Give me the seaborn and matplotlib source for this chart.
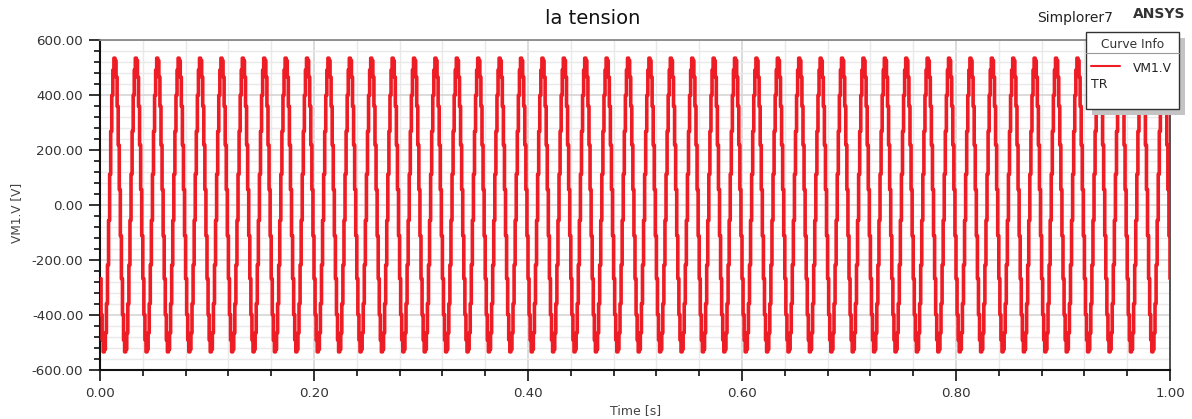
import numpy as np
import pandas as pd
import matplotlib
matplotlib.use("Agg")
import matplotlib.pyplot as plt
from matplotlib.patches import Rectangle
from matplotlib.lines import Line2D
from matplotlib.ticker import MultipleLocator, FormatStrFormatter
import seaborn as sns

# ---- data ----
# one 20 ms period of VM1.V sampled every 1 ms (values in V)
cycle_voltage = [-268, -399, -491, -534, -525, -465, -359, -218, -56, 112,
                 268, 399, 491, 534, 525, 465, 359, 218, 56, -112]
n_cycles = 50
sample_step = 0.001  # s
x_ticks = [0.0, 0.2, 0.4, 0.6, 0.8, 1.0]
y_ticks = [-600, -400, -200, 0, 200, 400, 600]
series_name = "VM1.V"

volts = np.tile(np.array(cycle_voltage, dtype=float), n_cycles)
volts = np.append(volts, cycle_voltage[0])
times = np.arange(len(volts)) * sample_step
df = pd.DataFrame({"Time [s]": times, "VM1.V [V]": volts})

sns.set_theme(style="white")
plt.rcParams["font.family"] = ["DejaVu Sans"]

W, H = 1192, 419
fig = plt.figure(figsize=(W / 100, H / 100), dpi=100)
ax = fig.add_axes([100 / W, 1 - 370 / H, 1070 / W, 330 / H])

red = "#ee1c24"
sns.lineplot(data=df, x="Time [s]", y="VM1.V [V]", ax=ax, color=red,
             linewidth=2.6, estimator=None, sort=False, legend=False,
             drawstyle="steps-post", zorder=3)

ax.set_xlim(0, 1)
ax.set_ylim(-600, 600)
ax.set_xticks(x_ticks)
ax.set_yticks(y_ticks)
ax.xaxis.set_minor_locator(MultipleLocator(0.04))
ax.yaxis.set_minor_locator(MultipleLocator(40))
ax.xaxis.set_major_formatter(FormatStrFormatter("%.2f"))
ax.yaxis.set_major_formatter(FormatStrFormatter("%.2f"))

ax.grid(True, which="major", color="#d2d2d2", linewidth=1.1, zorder=0)
ax.grid(True, which="minor", color="#e9e9e9", linewidth=1.0, zorder=0)
ax.set_axisbelow(True)

ax.tick_params(axis="both", which="major", direction="out", length=8, width=1.2,
               color="#111111", labelsize=9.6, labelcolor="#333333", pad=4,
               bottom=True, left=True)
ax.tick_params(axis="both", which="minor", direction="out", length=4, width=1.2,
               color="#111111", bottom=True, left=True)

for side in ["left", "bottom"]:
    ax.spines[side].set_color("#111111")
    ax.spines[side].set_linewidth(1.5)
ax.spines["top"].set_color("#888888")
ax.spines["top"].set_linewidth(1.3)
ax.spines["right"].set_color("#444444")
ax.spines["right"].set_linewidth(1.3)

ax.set_xlabel("")
ax.set_ylabel("")
fig.text(636 / W, 1 - 411 / H, "Time [s]", ha="center", va="center",
         fontsize=9, color="#444444")
fig.text(17 / W, 1 - 213 / H, "VM1.V [V]", ha="center", va="center",
         rotation=90, fontsize=8.7, color="#444444")

fig.text(593 / W, 1 - 18 / H, "la tension", ha="center", va="center",
         fontsize=14, color="#111111")
fig.text(1075 / W, 1 - 18 / H, "Simplorer7", ha="center", va="center",
         fontsize=10, color="#222222")
fig.text(1133 / W, 1 - 14 / H, "ANSYS", ha="left", va="center",
         fontsize=10, color="#333333", fontweight="bold")

# legend box ("Curve Info")
def fx(px):
    return px / W

def fy(py):
    return 1 - py / H

x0, x1, y0, y1 = 1086, 1179, 32, 109
shadow = Rectangle((fx(x0 + 6), fy(y1 + 6)), fx(x1 - x0), (y1 - y0) / H,
                   transform=fig.transFigure, facecolor="#c4c4c4",
                   edgecolor="none", zorder=10)
box = Rectangle((fx(x0), fy(y1)), fx(x1 - x0), (y1 - y0) / H,
                transform=fig.transFigure, facecolor="white",
                edgecolor="#333333", linewidth=1.0, zorder=11)
fig.add_artist(shadow)
fig.add_artist(box)
fig.add_artist(Line2D([fx(x0), fx(x1)], [fy(53), fy(53)],
                      transform=fig.transFigure, color="#999999",
                      linewidth=0.8, zorder=12))
fig.text(fx((x0 + x1) / 2), fy(45), "Curve Info", ha="center", va="center",
         fontsize=8.8, color="#333333", zorder=13)
fig.add_artist(Line2D([fx(1091), fx(1120)], [fy(66), fy(66)],
                      transform=fig.transFigure, color=red,
                      linewidth=1.5, zorder=12))
fig.text(fx(1172), fy(69), series_name, ha="right", va="center",
         fontsize=8.8, color="#222222", zorder=13)
fig.text(fx(1091), fy(84), "TR", ha="left", va="center",
         fontsize=9, color="#222222", zorder=13)

fig.savefig("out.png", dpi=100, facecolor="white")
